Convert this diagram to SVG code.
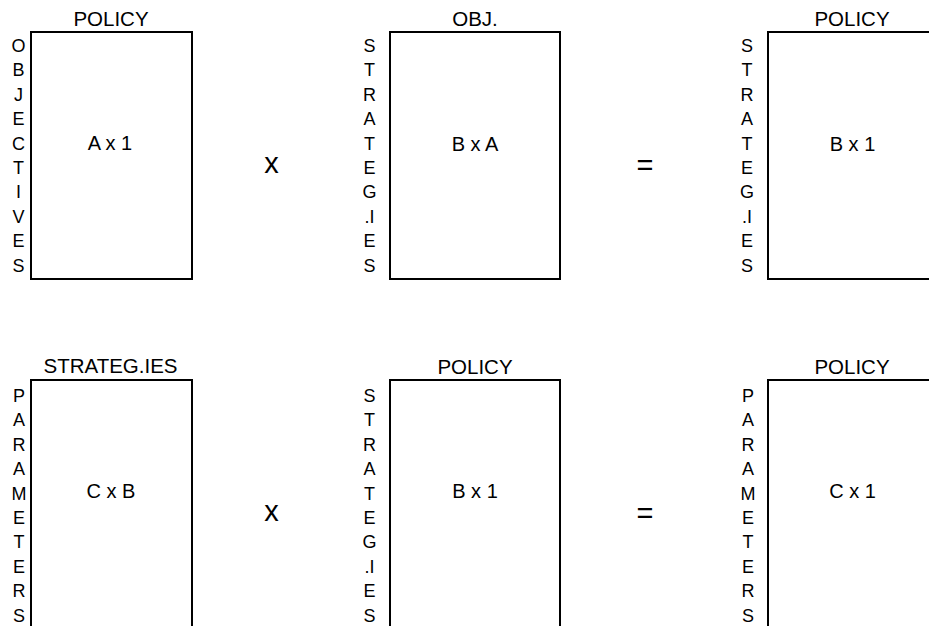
<svg xmlns="http://www.w3.org/2000/svg" width="929" height="626" viewBox="0 0 929 626">
<style>
.box{fill:none;stroke:#000;stroke-width:2}
text{font-family:"Liberation Sans",Arial,sans-serif;fill:#000;text-anchor:middle}
.h{font-size:20.5px}
.c{font-size:20px}
.v{font-size:18px}
.op{font-size:29px}
</style>
<rect width="929" height="626" fill="#fff"/>
<g id="m1">
<rect class="box" x="31" y="32" width="161" height="247"/>
<text class="h" x="111" y="26">POLICY</text>
<text class="c" x="110" y="150">A x 1</text>
<text class="v"><tspan x="18.5" y="52">O</tspan><tspan x="18.5" y="76.4">B</tspan><tspan x="18.5" y="100.8">J</tspan><tspan x="18.5" y="125.2">E</tspan><tspan x="18.5" y="149.6">C</tspan><tspan x="18.5" y="174">T</tspan><tspan x="18.5" y="198.4">I</tspan><tspan x="18.5" y="222.8">V</tspan><tspan x="18.5" y="247.2">E</tspan><tspan x="18.5" y="271.6">S</tspan></text>
</g>
<g id="op1"><text class="op" x="271.5" y="173">x</text></g>
<g id="m2">
<rect class="box" x="390" y="32" width="170" height="247"/>
<text class="h" x="475" y="26">OBJ.</text>
<text class="c" x="475" y="151">B x A</text>
<text class="v"><tspan x="369.5" y="52">S</tspan><tspan x="369.5" y="76.4">T</tspan><tspan x="369.5" y="100.8">R</tspan><tspan x="369.5" y="125.2">A</tspan><tspan x="369.5" y="149.6">T</tspan><tspan x="369.5" y="174">E</tspan><tspan x="369.5" y="198.4">G</tspan><tspan x="369.5" y="222.8">.I</tspan><tspan x="369.5" y="247.2">E</tspan><tspan x="369.5" y="271.6">S</tspan></text>
</g>
<g id="eq1"><text class="op" x="645" y="175">=</text></g>
<g id="m3">
<rect class="box" x="768" y="32" width="200" height="247"/>
<text class="h" x="852" y="26">POLICY</text>
<text class="c" x="852.5" y="151">B x 1</text>
<text class="v"><tspan x="747" y="52">S</tspan><tspan x="747" y="76.4">T</tspan><tspan x="747" y="100.8">R</tspan><tspan x="747" y="125.2">A</tspan><tspan x="747" y="149.6">T</tspan><tspan x="747" y="174">E</tspan><tspan x="747" y="198.4">G</tspan><tspan x="747" y="222.8">.I</tspan><tspan x="747" y="247.2">E</tspan><tspan x="747" y="271.6">S</tspan></text>
</g>
<g id="m4">
<rect class="box" x="31" y="380" width="161" height="300"/>
<text class="h" x="110.5" y="373">STRATEG.IES</text>
<text class="c" x="111" y="498">C x B</text>
<text class="v"><tspan x="19" y="402">P</tspan><tspan x="19" y="426.4">A</tspan><tspan x="19" y="450.8">R</tspan><tspan x="19" y="475.2">A</tspan><tspan x="19" y="499.6">M</tspan><tspan x="19" y="524">E</tspan><tspan x="19" y="548.4">T</tspan><tspan x="19" y="572.8">E</tspan><tspan x="19" y="597.2">R</tspan><tspan x="19" y="621.6">S</tspan></text>
</g>
<g id="op2"><text class="op" x="271.5" y="521">x</text></g>
<g id="m5">
<rect class="box" x="390" y="380" width="170" height="300"/>
<text class="h" x="475" y="374">POLICY</text>
<text class="c" x="475" y="498">B x 1</text>
<text class="v"><tspan x="369.5" y="402">S</tspan><tspan x="369.5" y="426.4">T</tspan><tspan x="369.5" y="450.8">R</tspan><tspan x="369.5" y="475.2">A</tspan><tspan x="369.5" y="499.6">T</tspan><tspan x="369.5" y="524">E</tspan><tspan x="369.5" y="548.4">G</tspan><tspan x="369.5" y="572.8">.I</tspan><tspan x="369.5" y="597.2">E</tspan><tspan x="369.5" y="621.6">S</tspan></text>
</g>
<g id="eq2"><text class="op" x="645" y="523">=</text></g>
<g id="m6">
<rect class="box" x="768" y="380" width="200" height="300"/>
<text class="h" x="852" y="374">POLICY</text>
<text class="c" x="852.5" y="498">C x 1</text>
<text class="v"><tspan x="748" y="402">P</tspan><tspan x="748" y="426.4">A</tspan><tspan x="748" y="450.8">R</tspan><tspan x="748" y="475.2">A</tspan><tspan x="748" y="499.6">M</tspan><tspan x="748" y="524">E</tspan><tspan x="748" y="548.4">T</tspan><tspan x="748" y="572.8">E</tspan><tspan x="748" y="597.2">R</tspan><tspan x="748" y="621.6">S</tspan></text>
</g>
<g id="connectors"></g>
</svg>
